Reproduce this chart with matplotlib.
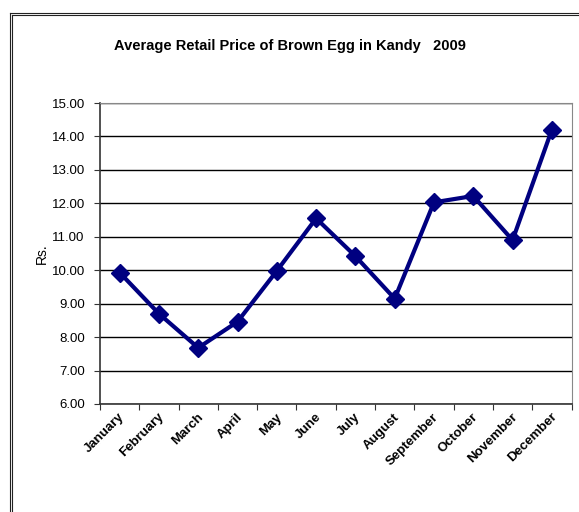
import matplotlib.pyplot as plt
from matplotlib.lines import Line2D
from matplotlib.transforms import ScaledTranslation

months = ['January', 'February', 'March', 'April', 'May', 'June',
          'July', 'August', 'September', 'October', 'November', 'December']
price = [9.93, 8.70, 7.68, 8.46, 9.98, 11.55, 10.42, 9.15, 12.03, 12.22, 10.90, 14.20]
yticks = [6, 7, 8, 9, 10, 11, 12, 13, 14, 15]

plt.rcParams['font.family'] = ['Liberation Sans', 'DejaVu Sans']

W, H = 579, 512
fig = plt.figure(figsize=(W / 100, H / 100), dpi=100)
ax = fig.add_axes([100 / W, 1 - 404 / H, 471.5 / W, 301 / H])

x = range(len(months))
ax.plot(x, price, color='#000080', lw=3, marker='D', ms=9, zorder=3)

ax.set_xlim(-0.5, len(months) - 0.5)
ax.set_ylim(6, 15)
ax.set_yticks(yticks)
ax.set_yticklabels(['%.2f' % v for v in yticks], fontsize=9.5)
ax.set_xticks([i - 0.5 for i in range(len(months) + 1)])
ax.set_xticklabels([])
ax.set_xticks(list(x), minor=True)
ax.set_xticklabels(months, minor=True, rotation=45, ha='right', va='center',
                   rotation_mode='anchor', fontsize=9.5, fontweight='bold')
ax.tick_params(axis='x', which='minor', length=0, pad=8)
ax.tick_params(axis='x', which='major', length=4, color='#333333')
ax.tick_params(axis='y', length=4, color='#333333', pad=7)
ax.grid(axis='y', color='black', lw=1)
ax.set_axisbelow(True)

# nudge month labels a little to the right, like the original
shift = ScaledTranslation(3 / 100, 0, fig.dpi_scale_trans)
for lab in ax.get_xticklabels(minor=True):
    lab.set_transform(lab.get_transform() + shift)

for s in ['top', 'right']:
    ax.spines[s].set_color('#888888')
for s in ['left', 'bottom']:
    ax.spines[s].set_color('#333333')
    ax.spines[s].set_linewidth(1.2)

ax.set_ylabel('Rs.', fontsize=10, labelpad=2)
fig.text(290 / W, 1 - 46 / H, 'Average Retail Price of Brown Egg in Kandy   2009',
         ha='center', va='center', fontsize=10.5, fontweight='bold')

# double border of the chart frame
for off in [0, 2]:
    fig.add_artist(Line2D([(10 + off) / W, (10 + off) / W], [0, 1 - (13 + off) / H],
                          color='#222222', lw=0.8, transform=fig.transFigure))
    fig.add_artist(Line2D([(10 + off) / W, 1], [1 - (13 + off) / H, 1 - (13 + off) / H],
                          color='#222222', lw=0.8, transform=fig.transFigure))

fig.savefig('out.png', dpi=100)
